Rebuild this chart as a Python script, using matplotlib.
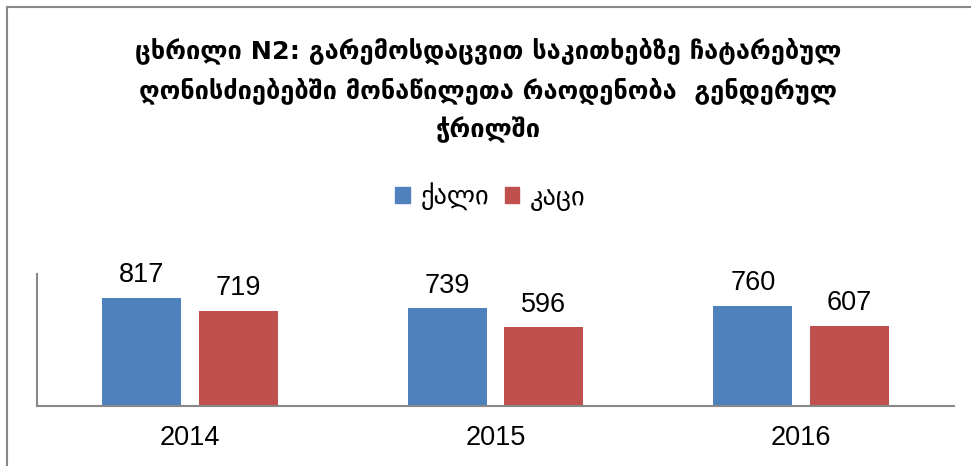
import numpy as np
from matplotlib import pyplot as plt
from matplotlib.lines import Line2D
from matplotlib.patches import Patch

years = ["2014", "2015", "2016"]
women = [817, 739, 760]
men = [719, 596, 607]
series_names = ["ქალი", "კაცი"]
title = ("ცხრილი N2: გარემოსდაცვით საკითხებზე ჩატარებულ\n"
         "ღონისძიებებში მონაწილეთა რაოდენობა  გენდერულ\n"
         "ჭრილში")

BLUE = "#4F81BD"
RED = "#C0504D"
GREY = "#888888"


def main():
    fig = plt.figure(figsize=(9.71, 4.66), dpi=100)
    W, H = 971, 466
    ax = fig.add_axes([37 / W, 1 - 406 / H, (954 - 37) / W, (406 - 274) / H])

    x = np.arange(len(years))
    width = 0.258
    off = 0.158
    b1 = ax.bar(x - off, women, width, color=BLUE)
    b2 = ax.bar(x + off, men, width, color=RED)
    for bars in (b1, b2):
        for rect in bars:
            ax.annotate(f"{int(rect.get_height())}",
                        (rect.get_x() + rect.get_width() / 2, rect.get_height()),
                        xytext=(0, 7), textcoords="offset points",
                        ha="center", va="bottom", fontsize=19.5,
                        family="Liberation Sans")

    ax.set_xlim(-0.5, 2.5)
    ax.set_ylim(0, 1000)
    ax.set_yticks([])
    ax.set_xticks(x)
    ax.set_xticklabels(years, fontsize=19.5, family="Liberation Sans")
    ax.tick_params(axis="x", length=0, pad=14)
    for s in ("top", "right"):
        ax.spines[s].set_visible(False)
    for s in ("left", "bottom"):
        ax.spines[s].set_color(GREY)
        ax.spines[s].set_linewidth(1.5)

    fig.text(0.503, 1 - 90 / H, title, ha="center", va="center",
             fontsize=18.3, fontweight="bold", family="DejaVu Sans",
             linespacing=1.6)

    handles = [Patch(color=BLUE), Patch(color=RED)]
    fig.legend(handles, series_names, loc="center",
               bbox_to_anchor=(0.505, 1 - 197 / H), ncol=2, frameon=False,
               handlelength=0.55, handleheight=0.55, handletextpad=0.4,
               columnspacing=0.6, prop={"family": "DejaVu Sans", "size": 19})

    # frame of the original chart box (cut off on the right and bottom)
    fig.add_artist(Line2D([7 / W, 1], [1 - 7 / H, 1 - 7 / H],
                          color=GREY, lw=1.5, transform=fig.transFigure))
    fig.add_artist(Line2D([7 / W, 7 / W], [0, 1 - 7 / H],
                          color=GREY, lw=1.5, transform=fig.transFigure))

    fig.savefig("out.png", dpi=100)


if __name__ == "__main__":
    main()
